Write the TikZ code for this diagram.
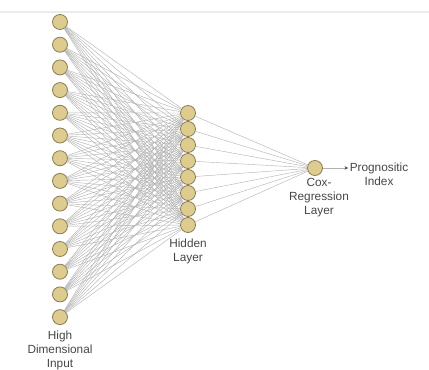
\documentclass[tikz,border=0pt]{standalone}
\usepackage{fontspec}
\setmainfont{Liberation Sans}
\usetikzlibrary{positioning,arrows.meta}

\definecolor{neuronfill}{RGB}{222,204,142}
\definecolor{neurondraw}{RGB}{140,126,88}
\definecolor{labeltext}{RGB}{70,70,70}

\begin{document}
\begin{tikzpicture}[thin,
	node distance=0.5675cm,
	on grid,
	neuron/.style={circle,fill=neuronfill,draw=neurondraw,line width=0.6pt,minimum size=0.375cm,inner sep=0pt},
	link/.style={draw=gray!60,line width=0.3pt},
	textblock/.style={align=center,text=labeltext,inner sep=1pt,font=\fontsize{8.4}{9.9}\selectfont}]

\useasboundingbox (0,0) rectangle (10.725,-9.225);
\draw[gray!15,line width=1pt] (0,-0.3) -- (10.725,-0.3);

% Input layer
\node[neuron] (in1) at (1.5,-0.55) {};
\foreach \i [remember=\i as \prev (initially 1)] in {2,...,14}
	\node[neuron,
		below=of in\prev] (in\i) {};

% Hidden layer
\node[neuron] (h1) at (4.7,-2.825) {};
\foreach \i [remember=\i as \prev (initially 1)] in {2,...,8}
	\node[neuron,
		below=0.4cm of h\prev] (h\i) {};

% Output
\node[neuron] (cox) at (7.875,-4.2) {};

% Labels
\node[textblock,
	below=0.825cm of in14] (inputlabel) {High\\Dimensional\\Input};

\node[textblock,
	below=0.65cm of h8] (hiddenlabel) {Hidden\\Layer};

\node[textblock,
	below right=0.75cm and 0.1cm of cox] (coxlabel) {Cox-\\Regression\\Layer};

\node[textblock,
	below right=0.15cm and 1.6cm of cox] (prog) {Prognositic\\Index};

% connections
\foreach \i in {1,...,14}
	\foreach \j in {1,...,8}
		\draw[link] (in\i) -- (h\j);

\foreach \j in {1,...,8}
	\draw[link] (h\j) -- (cox);

\draw[link,-{Stealth[length=2.5pt,width=2.5pt,black!70]}] (cox) -- (cox -| prog.west);

\end{tikzpicture}
\end{document}
